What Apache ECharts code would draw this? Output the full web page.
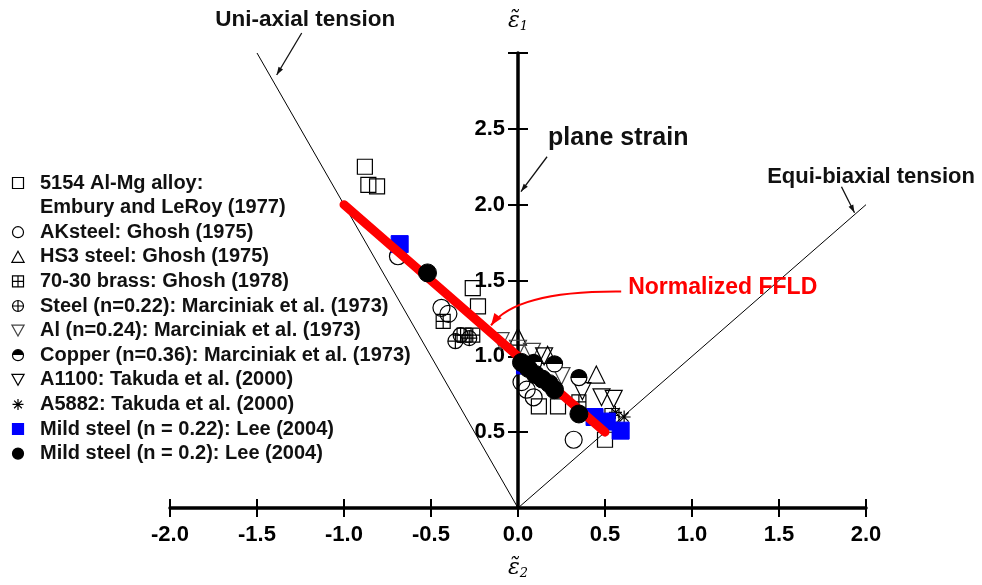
<!DOCTYPE html>
<html>
<head>
<meta charset="utf-8">
<script src="https://cdn.jsdelivr.net/npm/echarts@6/dist/echarts.min.js"></script>
<style>
  html, body { margin: 0; padding: 0; background: #fff; }
  #chart { width: 982px; height: 585px; }
</style>
</head>
<body>
<div id="chart"></div>
<script>
// Normalized forming-limit data: [minor strain e2, major strain e1]
const alMg5154 = [[-0.88, 2.25], [-0.86, 2.13], [-0.81, 2.12], [-0.26, 1.45], [-0.23, 1.33], [0.12, 0.67], [0.23, 0.67], [0.50, 0.45]];
const akSteel = [[-0.69, 1.66], [-0.44, 1.32], [-0.40, 1.28], [0.02, 0.83], [0.05, 0.78], [0.09, 0.73], [0.32, 0.45]];
const hs3Steel = [[0.00, 1.13], [0.17, 1.01], [0.45, 0.88]];
const brass7030 = [[-0.43, 1.23], [-0.31, 1.14], [-0.26, 1.14], [0.35, 0.70], [0.54, 0.61]];
const steelMarciniak = [[-0.36, 1.10], [-0.33, 1.14], [-0.28, 1.12]];
const alMarciniak = [[-0.10, 1.10], [0.00, 1.05], [0.08, 1.03], [0.25, 0.87]];
const copperMarciniak = [[0.09, 0.96], [0.21, 0.95], [0.35, 0.86]];
const a1100 = [[0.15, 1.00], [0.37, 0.77], [0.48, 0.73], [0.55, 0.72]];
const a5882 = [[0.56, 0.63], [0.61, 0.60]];
const mildSteel022 = [[-0.68, 1.74], [0.04, 0.94], [0.44, 0.60], [0.51, 0.57], [0.59, 0.51]];
const mildSteel020 = [[-0.52, 1.55], [0.02, 0.96], [0.06, 0.92], [0.10, 0.88], [0.14, 0.85], [0.18, 0.82], [0.21, 0.78], [0.35, 0.62]];

// Reference strain paths and the normalized FFLD line
const ffld = [[-1.0, 2.0], [0.5, 0.5]];
const uniaxialPath = [[0, 0], [-1.5, 3.0]];
const equibiaxialPath = [[0, 0], [2.0, 2.0]];

// Axis ranges and tick step
const xRange = [-2.0, 2.0];
const yRange = [0, 3.0];
const tickStep = 0.5;

const legendNames = [
  '5154 Al-Mg alloy:',
  'Embury and LeRoy (1977)',
  'AKsteel: Ghosh (1975)',
  'HS3 steel: Ghosh (1975)',
  '70-30 brass: Ghosh (1978)',
  'Steel (n=0.22): Marciniak et al. (1973)',
  'Al (n=0.24): Marciniak et al. (1973)',
  'Copper (n=0.36): Marciniak et al. (1973)',
  'A1100: Takuda et al. (2000)',
  'A5882: Takuda et al. (2000)',
  'Mild steel (n = 0.22): Lee (2004)',
  'Mild steel (n = 0.2): Lee (2004)'
];

const SANS = '"Liberation Sans", Arial, sans-serif';
const SERIF = '"DejaVu Serif", "Liberation Serif", serif';

const SYM = {
  square: 'path://M0,0H10V10H0Z',
  triUp: 'path://M5,0L10,9L0,9Z',
  triDown: 'path://M0,0H10L5,9Z',
  boxCross: 'path://M0,0H10V10H0Z M5,0V10 M0,5H10',
  circleCross: 'path://M0,5A5,5 0 1 1 10,5A5,5 0 1 1 0,5Z M0,5H10 M5,0V10',
  star: 'path://M0,5H10 M5,0V10 M1.5,1.5L8.5,8.5 M8.5,1.5L1.5,8.5'
};

const hollow = (border) => ({ color: 'rgba(255,255,255,0)', borderColor: border || '#000', borderWidth: 1.2, opacity: 1 });

function scatter(name, data, symbol, size, itemStyle, z) {
  return { type: 'scatter', name, data, symbol, symbolSize: size, itemStyle: Object.assign({ opacity: 1 }, itemStyle), z: z || 3, silent: true };
}

const copperFill = new echarts.graphic.LinearGradient(0, 0, 0, 1, [
  { offset: 0, color: '#000' }, { offset: 0.5, color: '#000' },
  { offset: 0.5, color: '#fff' }, { offset: 1, color: '#fff' }
]);

const series = [
  { type: 'line', data: uniaxialPath, symbol: 'none', lineStyle: { color: '#000', width: 1 }, silent: true, z: 2 },
  { type: 'line', data: equibiaxialPath, symbol: 'none', lineStyle: { color: '#000', width: 1 }, silent: true, z: 2 },
  scatter(legendNames[0], alMg5154, SYM.square, 15, hollow()),
  { type: 'scatter', name: legendNames[1], data: [], silent: true },
  scatter(legendNames[2], akSteel, 'circle', 17, hollow()),
  scatter(legendNames[3], hs3Steel, SYM.triUp, 17, hollow()),
  scatter(legendNames[4], brass7030, SYM.boxCross, 14, hollow()),
  scatter(legendNames[5], steelMarciniak, SYM.circleCross, 15, hollow()),
  scatter(legendNames[6], alMarciniak, SYM.triDown, 17, hollow('#444')),
  scatter(legendNames[8], a1100, SYM.triDown, 17, hollow()),
  scatter(legendNames[9], a5882, SYM.star, 13, { color: '#000', borderColor: '#000', borderWidth: 1.2 }),
  scatter(legendNames[10], mildSteel022, SYM.square, 17, { color: '#0000ff', borderColor: '#0000ff', borderWidth: 1 }),
  { type: 'line', data: ffld, symbol: 'none', lineStyle: { color: '#ff0000', width: 9, cap: 'round' }, silent: true, z: 4 },
  scatter(legendNames[7], copperMarciniak, 'circle', 16, { color: copperFill, borderColor: '#000', borderWidth: 1.2 }, 5),
  scatter(legendNames[11], mildSteel020, 'circle', 18, { color: '#000', borderColor: '#000', borderWidth: 1 }, 5)
];

const GRID = { left: 170, right: 116, top: 53, bottom: 75 };
const PLOT_W = 982 - GRID.left - GRID.right;
// the vertical axis sits on e2 = 0, moved in from the grid's left edge
const yAxisOffset = -PLOT_W * (0 - xRange[0]) / (xRange[1] - xRange[0]);

const axisLineStyle = { color: '#000', width: 3.5 };
const tickStyle = { color: '#000', width: 2 };
const symbolName = (sub) => '{e|\u03B5\u0303}{s|' + sub + '}';
const symbolRich = {
  e: { fontFamily: SERIF, fontStyle: 'italic', fontSize: 22, color: '#000' },
  s: { fontFamily: SERIF, fontStyle: 'italic', fontSize: 13, color: '#000', padding: [10, 0, 0, 0] }
};

const option = {
  animation: false,
  backgroundColor: '#fff',
  grid: Object.assign({ containLabel: false }, GRID),
  legend: {
    orient: 'vertical',
    left: 1,
    top: 173,
    padding: 0,
    itemWidth: 34,
    itemHeight: 11,
    itemGap: 4.6,
    selectedMode: false,
    symbolKeepAspect: true,
    itemStyle: { borderWidth: 1.2 },
    textStyle: { fontFamily: SANS, fontWeight: 'bold', fontSize: 20, lineHeight: 20, color: '#111' },
    data: legendNames.map((n, i) => (i === 1 ? { name: n, icon: 'none' } : { name: n }))
  },
  xAxis: [
    {
      type: 'value', min: xRange[0], max: xRange[1], interval: tickStep, position: 'bottom',
      axisLine: { onZero: false, lineStyle: axisLineStyle },
      axisTick: { length: 9, lineStyle: tickStyle },
      axisLabel: { margin: 16, fontFamily: SANS, fontWeight: 'bold', fontSize: 22, color: '#000', formatter: v => v.toFixed(1) },
      splitLine: { show: false },
      name: symbolName(2), nameLocation: 'middle', nameGap: 49,
      nameTextStyle: { rich: symbolRich }
    },
    {
      type: 'value', min: xRange[0], max: xRange[1], interval: tickStep, position: 'bottom',
      axisLine: { onZero: false, show: false },
      axisTick: { inside: true, length: 9, lineStyle: tickStyle },
      axisLabel: { show: false }, splitLine: { show: false }
    }
  ],
  yAxis: [
    {
      type: 'value', min: yRange[0], max: yRange[1], interval: tickStep, position: 'left', offset: yAxisOffset,
      axisLine: { onZero: false, lineStyle: axisLineStyle },
      axisTick: { length: 10, lineStyle: tickStyle },
      axisLabel: { margin: 13, fontFamily: SANS, fontWeight: 'bold', fontSize: 22, color: '#000',
        formatter: v => (v <= yRange[0] || v >= yRange[1]) ? '' : v.toFixed(1) },
      splitLine: { show: false },
      name: symbolName(1), nameLocation: 'end', nameGap: 20,
      nameTextStyle: { rich: symbolRich }
    },
    {
      type: 'value', min: yRange[0], max: yRange[1], interval: tickStep, position: 'left', offset: yAxisOffset,
      axisLine: { onZero: false, show: false },
      axisTick: { inside: true, length: 10, lineStyle: tickStyle },
      axisLabel: { show: false }, splitLine: { show: false }
    }
  ],
  series
};

const chart = echarts.init(document.getElementById('chart'), null, { renderer: 'canvas' });
chart.setOption(option);

// Annotation callouts, anchored in data space and converted to pixels
const toPx = p => chart.convertToPixel({ gridIndex: 0 }, p);

function arrowHead(from, to, len, half, color) {
  const dx = to[0] - from[0], dy = to[1] - from[1];
  const d = Math.hypot(dx, dy) || 1;
  const ux = dx / d, uy = dy / d;
  const bx = to[0] - ux * len, by = to[1] - uy * len;
  return {
    type: 'polygon', silent: true, z: 20,
    shape: { points: [to, [bx - uy * half, by + ux * half], [bx + uy * half, by - ux * half]] },
    style: { fill: color }
  };
}

function straightArrow(fromData, toData, color) {
  const a = toPx(fromData), b = toPx(toData);
  return [
    { type: 'line', silent: true, z: 20, shape: { x1: a[0], y1: a[1], x2: b[0], y2: b[1] }, style: { stroke: color, lineWidth: 1.3 } },
    arrowHead(a, b, 8, 2.6, color)
  ];
}

function label(text, atData, align, size, color) {
  const p = toPx(atData);
  return {
    type: 'text', silent: true, z: 20, x: p[0], y: p[1],
    style: { text, fill: color, font: 'bold ' + size + 'px ' + SANS, align, verticalAlign: 'middle' }
  };
}

const curveStart = toPx([0.593, 1.428]);
const curveCtrl = toPx([-0.012, 1.434]);
const curveEnd = toPx([-0.155, 1.204]);

const graphics = [].concat(
  label('Uni-axial tension', [-1.223, 3.217], 'center', 22.5, '#111'),
  straightArrow([-1.243, 3.132], [-1.387, 2.855], '#111'),
  label('plane strain', [0.173, 2.441], 'left', 25, '#111'),
  straightArrow([0.167, 2.316], [0.017, 2.086], '#111'),
  label('Equi-biaxial tension', [2.029, 2.184], 'center', 22, '#111'),
  straightArrow([1.859, 2.118], [1.934, 1.947], '#111'),
  label('Normalized FFLD', [0.633, 1.454], 'left', 23, '#ff0000'),
  [{
    type: 'bezierCurve', silent: true, z: 20,
    shape: { x1: curveStart[0], y1: curveStart[1], cpx1: curveCtrl[0], cpy1: curveCtrl[1], x2: curveEnd[0], y2: curveEnd[1] },
    style: { stroke: '#ff0000', lineWidth: 2, fill: null }
  },
  arrowHead(curveCtrl, curveEnd, 12, 4.5, '#ff0000')]
);

chart.setOption({ graphic: graphics });
</script>
</body>
</html>
